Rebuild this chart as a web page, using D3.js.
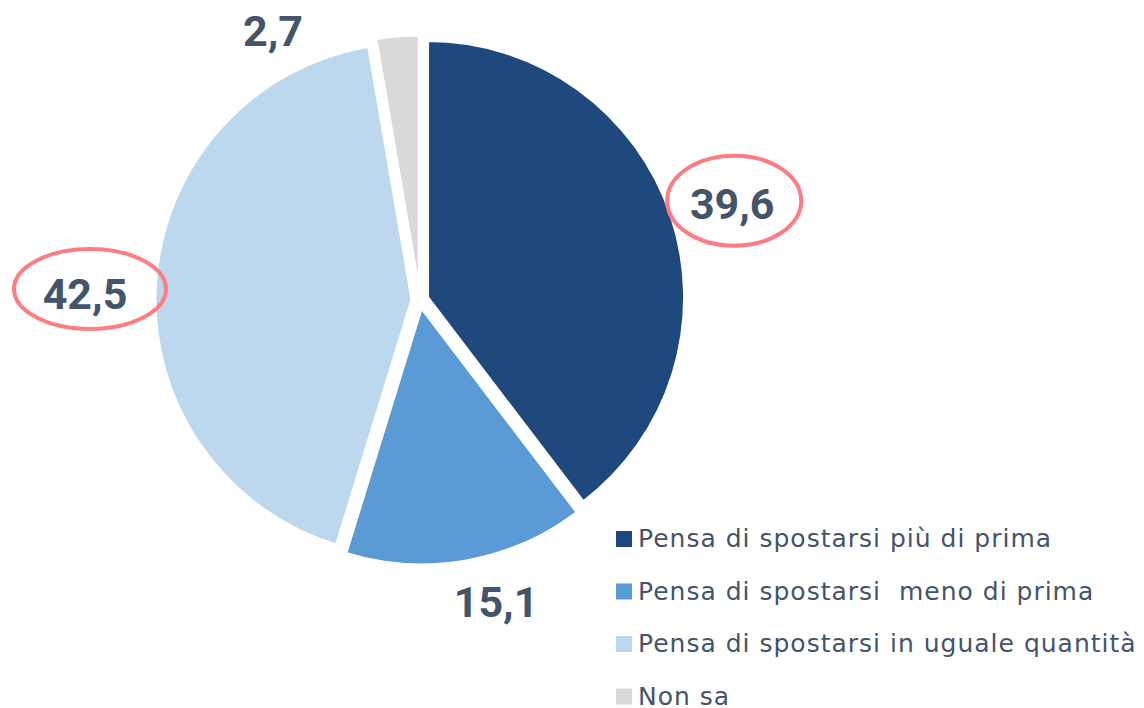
<!DOCTYPE html>
<html><head><meta charset="utf-8">
<script src="https://cdn.jsdelivr.net/npm/d3@7"></script>
<style>html,body{margin:0;padding:0;background:#fff;}svg{display:block;}</style>
</head><body>
<svg id="chart" width="1144" height="708"></svg>
<script>
const categories = ["Pensa di spostarsi più di prima", "Pensa di spostarsi  meno di prima", "Pensa di spostarsi in uguale quantità", "Non sa"];
const values = [39.6, 15.1, 42.5, 2.7];
const colors = ["#1f497d", "#5b9bd5", "#bdd7ee", "#d9d9d9"];
const highlighted = [true, false, true, false];

const svg = d3.select("#chart");
const cx = 420, cy = 300, R = 257, explode = 8;

const data = categories.map((c, i) => ({ name: c, value: values[i], color: colors[i], hl: highlighted[i] }));
const pie = d3.pie().sort(null).value(d => d.value);
const arcs = pie(data);
const arc = d3.arc().innerRadius(0).outerRadius(R);

const g = svg.append("g").attr("transform", `translate(${cx},${cy})`);
g.selectAll("path").data(arcs).join("path")
  .attr("d", arc)
  .attr("fill", d => d.data.color)
  .attr("stroke", "#fff").attr("stroke-width", 3)
  .attr("transform", d => {
    const a = (d.startAngle + d.endAngle) / 2;
    return `translate(${explode * Math.sin(a)},${-explode * Math.cos(a)})`;
  });

// labels: placed on an outer radius along the mid-angle, with layout nudges
const labelRadius = 320;
function labelPos(d, i) {
  const a = (d.startAngle + d.endAngle) / 2;
  let x = labelRadius * Math.sin(a), y = -labelRadius * Math.cos(a);
  if (i === 0) { x += 9; y += 6; }
  if (i === 1) { x += 20; y -= 13; }
  if (i === 2) { x = -335; y = -6; }
  if (i === 3) { x = -147; y = -269; }
  return [x, y];
}
const fmt = v => String(v).replace(".", ",");
const lg = g.append("g");
arcs.forEach((d, i) => {
  const [x, y] = labelPos(d, i);
  if (d.data.hl) {
    const big = i === 2;
    lg.append("ellipse").attr("cx", x + (big ? 5 : 2)).attr("cy", y - (big ? 5 : 3))
      .attr("rx", big ? 76 : 67).attr("ry", big ? 40 : 45)
      .attr("fill", "none").attr("stroke", "#ff7c80").attr("stroke-width", 4);
  }
  lg.append("text").attr("x", x).attr("y", y).attr("dy", "0.35em")
    .attr("text-anchor", "middle")
    .attr("font-family", "Roboto, 'Noto Sans', sans-serif")
    .attr("font-weight", 700).attr("font-size", 43)
    .attr("fill", "#44546a").text(fmt(d.data.value));
});

// legend
const leg = svg.append("g").attr("transform", "translate(616,547)");
const rows = leg.selectAll("g").data(data).join("g")
  .attr("transform", (d, i) => `translate(0,${i * 52.5})`);
rows.append("rect").attr("x", 0).attr("y", -16).attr("width", 16).attr("height", 16).attr("fill", d => d.color);
rows.append("text").attr("x", 22).attr("y", 0)
  .attr("font-family", "'DejaVu Sans', sans-serif").attr("font-size", 25)
  .attr("letter-spacing", 1)
  .attr("fill", "#44546a")
  .style("white-space", "pre")
  .text(d => d.name);
</script>
</body></html>
